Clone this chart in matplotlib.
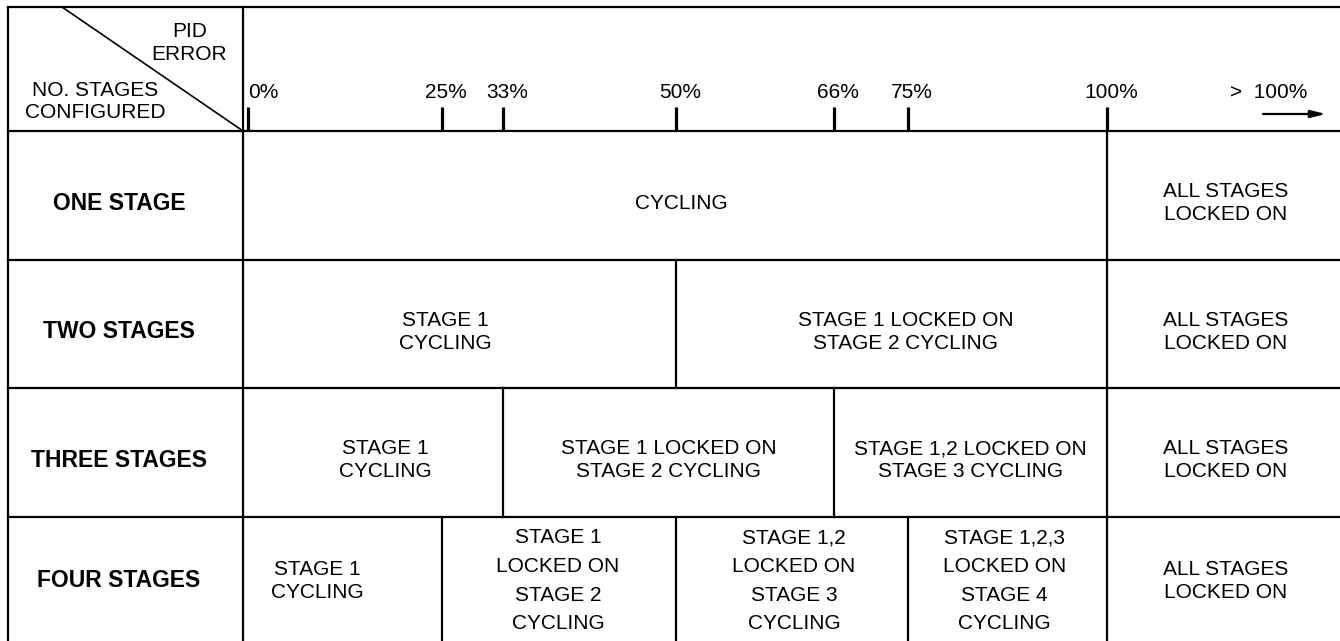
import numpy as np
import matplotlib.pyplot as plt

plt.rcParams['font.family'] = ['Liberation Sans', 'DejaVu Sans']

# PID error breakpoints shown in the header and where they sit across the chart
tick_pct = [0, 25, 33, 50, 66, 75, 100]
tick_x = [248, 442, 503, 676, 834, 908, 1107]
tick_labels = ["0%", "25%", "33%", "50%", "66%", "75%", "100%"]

row_labels = ["ONE STAGE", "TWO STAGES", "THREE STAGES", "FOUR STAGES"]
row_breaks = [
    [0, 100],
    [0, 50, 100],
    [0, 33, 66, 100],
    [0, 25, 50, 75, 100],
]
row_cells = [
    ["CYCLING", "ALL STAGES\nLOCKED ON"],
    ["STAGE 1\nCYCLING", "STAGE 1 LOCKED ON\nSTAGE 2 CYCLING", "ALL STAGES\nLOCKED ON"],
    ["STAGE 1\nCYCLING", "STAGE 1 LOCKED ON\nSTAGE 2 CYCLING",
     "STAGE 1,2 LOCKED ON\nSTAGE 3 CYCLING", "ALL STAGES\nLOCKED ON"],
    ["STAGE 1\nCYCLING", "STAGE 1\nLOCKED ON\nSTAGE 2\nCYCLING",
     "STAGE 1,2\nLOCKED ON\nSTAGE 3\nCYCLING", "STAGE 1,2,3\nLOCKED ON\nSTAGE 4\nCYCLING",
     "ALL STAGES\nLOCKED ON"],
]

# layout (pixel units)
W, H = 1340, 641
left, col1, top, head_bot, row_h = 8, 243, 7, 131, 128.5
right_edge = W
cell_dx = [[6, 2], [-14, 14, 2], [12, 0, 0, 2], [-25, -1, 2, -3, 2]]
row_dy = [8, 8, 8, 2]
lw = 1.6
fs = 15

fig = plt.figure(figsize=(W / 100, H / 100), dpi=100)
ax = fig.add_axes([0, 0, 1, 1])
ax.set_xlim(0, W)
ax.set_ylim(H, 0)
ax.axis('off')


def px(p):
    return np.interp(p, tick_pct, tick_x)


# frame
ax.plot([left, right_edge], [top, top], color='black', lw=lw)
ax.plot([left, left], [top, H], color='black', lw=lw)
ax.plot([col1, col1], [top, H], color='black', lw=lw)
ax.plot([left + 54, col1], [top, head_bot], color='black', lw=1.2)

# header
ax.text(227, 43, "PID\nERROR", ha='right', va='center', multialignment='center',
        fontsize=fs, linespacing=1.25)
ax.text(95, 101.5, "NO. STAGES\nCONFIGURED", ha='center', va='center', multialignment='center',
        fontsize=fs, linespacing=1.25)
for i, (x, lab) in enumerate(zip(tick_x, tick_labels)):
    ax.plot([x, x], [107, head_bot], color='black', lw=2.3, solid_capstyle='butt')
    if i == 0:
        ax.text(x, 98, lab, ha='left', va='baseline', fontsize=fs)
    else:
        ax.text(x + 4, 98, lab, ha='center', va='baseline', fontsize=fs)
ax.text(1307, 98, ">  100%", ha='right', va='baseline', fontsize=fs)
ax.annotate("", xy=(1326, 114), xytext=(1263, 114),
            arrowprops=dict(arrowstyle='-|>,head_length=0.9,head_width=0.22',
                            color='black', lw=1.6, shrinkA=0, shrinkB=0))

# rows
for r, (lab, breaks, cells) in enumerate(zip(row_labels, row_breaks, row_cells)):
    y0 = head_bot + r * row_h
    y1 = y0 + row_h if r < len(row_labels) - 1 else H
    ax.plot([left, right_edge], [y0, y0], color='black', lw=lw)
    yc = (y0 + y1) / 2 + row_dy[r]
    ax.text(119, yc, lab, ha='center', va='center', fontsize=16.5, fontweight='bold')
    edges = [col1] + [px(b) for b in breaks[1:]] + [right_edge]
    for c, txt in enumerate(cells):
        if c > 0:
            ax.plot([edges[c], edges[c]], [y0, y1], color='black', lw=lw)
        xc = (edges[c] + edges[c + 1]) / 2 + cell_dx[r][c]
        ls = 1.65 if txt.count("\n") > 1 else 1.25
        ax.text(xc, yc, txt, ha='center', va='center', multialignment='center',
                fontsize=fs, linespacing=ls)

fig.savefig("out.png", dpi=100)
